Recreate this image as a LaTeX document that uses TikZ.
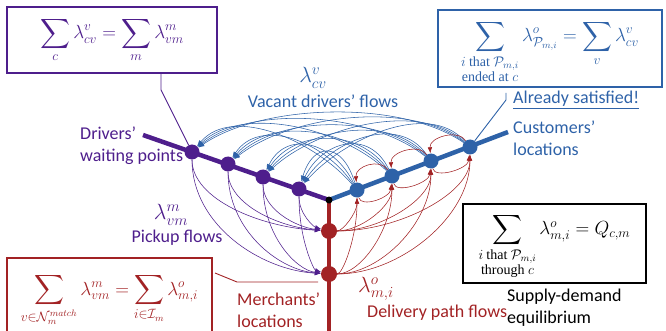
\RequirePackage{fix-cm}
\documentclass[tikz,border=0pt]{standalone}
\usepackage{amsmath}
\usepackage{graphicx}
\usepackage{fontspec}
\setmainfont{Carlito}
\newfontfamily\sertext{Liberation Serif}
\usetikzlibrary{arrows.meta,calc}
\pgfdeclarelayer{bg}
\pgfsetlayers{bg,main}
\definecolor{cpur}{RGB}{78,30,140}
\definecolor{cblu}{RGB}{46,98,168}
\definecolor{cred}{RGB}{162,34,36}
\newcommand{\bigS}{\mathop{\vcenter{\hbox{\scalebox{1.2}{$\displaystyle\sum$}}}}\limits}
\newcommand{\lmt}[1]{\hbox{\fontsize{13.5}{15}\selectfont #1}}
\newcommand{\lmtb}[1]{\hbox{\fontsize{14}{15}\selectfont #1}}
\newcommand{\padtop}[2]{\raisebox{0pt}[\dimexpr\height+#1\relax][\depth]{#2}}
\begin{document}
\begin{tikzpicture}[x=1pt,y=-1pt,
  txt/.style={font=\fontsize{18}{22}\selectfont, inner sep=0pt},
  mth/.style={font=\fontsize{22}{24}\selectfont, inner sep=0pt},
  dot/.style={circle, inner sep=0pt, minimum size=15pt},
  arr/.style={-{Latex[length=6pt,width=4.5pt]}, line width=0.55pt},
  fbox/.style={draw, line width=1.2pt, inner sep=0pt, font=\fontsize{19}{22}\selectfont},
  link/.style={line width=0.9pt}]
\useasboundingbox (0,0) rectangle (666,331);

% dots
\node[dot,fill=cpur] (p1) at (192,152) {};
\node[dot,fill=cpur] (p2) at (228,164) {};
\node[dot,fill=cpur] (p3) at (263,177) {};
\node[dot,fill=cpur] (p4) at (299,189) {};
\node[circle,fill=black,inner sep=0pt,minimum size=7pt] (J) at (329,200) {};
\node[dot,fill=cblu] (b1) at (357,190) {};
\node[dot,fill=cblu] (b2) at (392,176) {};
\node[dot,fill=cblu] (b3) at (431,161) {};
\node[dot,fill=cblu] (b4) at (470,147) {};
\node[dot,fill=cred,minimum size=16pt] (r1) at (329,231) {};
\node[dot,fill=cred,minimum size=16pt] (r2) at (329,274) {};

\coordinate (pA) at (143,135);
\coordinate (bA) at (508,132);
\coordinate (rA) at (329,345);

% boxes
\node[fbox, draw=cpur, text=cpur, minimum width=210pt, minimum height=66pt] (pbox) at (112,40)
  {$\displaystyle \bigS_{\lmt{$c$}}\lambda^{v}_{cv}=\bigS_{\lmt{$m$}}\lambda^{m}_{vm}$};
\node[fbox, draw=cblu, text=cblu, minimum width=224pt, minimum height=77pt] (bbox) at (550,48.5)
  {\padtop{7pt}{$\displaystyle \bigS_{\substack{\lmtb{$i$ \sertext that $\mathcal{P}_{m,i}$}\\ \lmtb{\sertext ended at $c$}}}\lambda^{o}_{\mathcal{P}_{m,i}}=\bigS_{\lmt{$v$}}\lambda^{v}_{cv}$}};
\node[fbox, draw=black, minimum width=183pt, minimum height=79pt] (kbox) at (554.5,243.5)
  {\padtop{6pt}{$\displaystyle \bigS_{\substack{\lmtb{$i$ \sertext that $\mathcal{P}_{m,i}$}\\ \lmtb{\sertext through $c$}}}\lambda^{o}_{m,i}=Q_{c,m}$}};
\node[fbox, draw=cred, text=cred, minimum width=205pt, minimum height=84pt] (rbox) at (109.5,300)
  {$\displaystyle \bigS_{\lmt{$v{\in}\mathcal{N}_m^{match}$}}\lambda^{m}_{vm}=\bigS_{\lmt{$i{\in}\mathcal{I}_m$}}\lambda^{o}_{m,i}$};

% labels
\node[mth, text=cblu] (lcv) at (313,78) {$\lambda^{v}_{cv}$};
\node[txt, text=cblu] (vdf) at (323,101) {Vacant drivers’ flows};
\node[txt, text=cpur, align=left, anchor=west] (dwp) at (80,146) {Drivers’\\waiting points};
\node[mth, text=cpur] (lvm) at (171,215) {$\lambda^{m}_{vm}$};
\node[txt, text=cpur] (puf) at (177,238) {Pickup flows};
\node[txt, text=cred, align=left, anchor=west] (mel) at (237,310) {Merchants’\\locations};
\node[mth, text=cred] (lmi) at (376,289) {$\lambda^{o}_{m,i}$};
\node[txt, text=cred, anchor=west] (dpf) at (367,313) {Delivery path flows};
\node[txt, text=cblu, anchor=west] (asat) at (513,100) {\underline{Already satisfied!}};
\node[txt, text=cblu, align=left, anchor=west] (cul) at (513,138) {Customers’\\locations};
\node[txt, align=left, anchor=west] (sde) at (507,308) {Supply-demand\\equilibrium};

\coordinate (pk) at (161,90);
\coordinate (bk1) at (506,93);
\coordinate (bk2) at (506,100);
\coordinate (rk1) at (215,273);
\coordinate (rk2) at (237,282);
\coordinate (rk3) at (318,282);

\begin{pgfonlayer}{bg}
\draw[cpur,line width=4.5pt] (pA) -- (J.center);
\draw[cblu,line width=4.5pt] (J.center) -- (bA);
\draw[cred,line width=3.5pt] (J.center) -- (rA);

% connectors
\draw[cpur,link] (pbox.south -| pk) -- (pk) -- (p1);
\draw[cblu,link] (bk1) -- (bk2) -- (b4);
\draw[cred,link] (rk1) -- (rk2) -- (rk3);

% vacant drivers' flows
\foreach \j/\xb in {1/357,2/392,3/431,4/470}
 \foreach \i/\xp in {1/192,2/228,3/263,4/299}{
  \pgfmathsetmacro\dx{0.25*(\xb-\xp)}
  \draw[arr, cblu] (b\j) .. controls ($(b\j)+(-\dx,-48)$) and ($(p\i)+(\dx,-48)$) .. (p\i);
 }
% pickup flows
\foreach \k/\yr in {1/231,2/274}
 \foreach \i/\xp/\yp in {1/192/152,2/228/164,3/263/177,4/299/189}{
  \pgfmathsetmacro\vy{0.6*(\yr-\yp)}
  \pgfmathsetmacro\hx{0.5*(329-\xp)}
  \draw[arr, cpur] (p\i) .. controls ($(p\i)+(0,\vy)$) and ($(r\k)+(-\hx,-4)$) .. (r\k);
 }
% delivery path flows
\foreach \k/\yr in {1/231,2/274}
 \foreach \j/\xb/\yb in {1/357/190,2/392/176,3/431/161,4/470/147}{
  \pgfmathsetmacro\hx{0.5*(\xb-329)}
  \pgfmathsetmacro\vy{0.55*(\yr-\yb)}
  \draw[arr, cred] (r\k) .. controls ($(r\k)+(\hx,0)$) and ($(b\j)+(0,\vy)$) .. (b\j);
 }
\foreach \k/\n in {1/2,2/3,3/4}{
  \draw[arr, cred] (b\n) .. controls ($(b\n)+(-12,-18)$) and ($(b\k)+(-2,-24)$) .. (b\k);
  \draw[arr, cred] (b\k) .. controls ($(b\k)+(4,18)$) and ($(b\n)+(-2,22)$) .. (b\n);
}
\end{pgfonlayer}
\end{tikzpicture}
\end{document}
